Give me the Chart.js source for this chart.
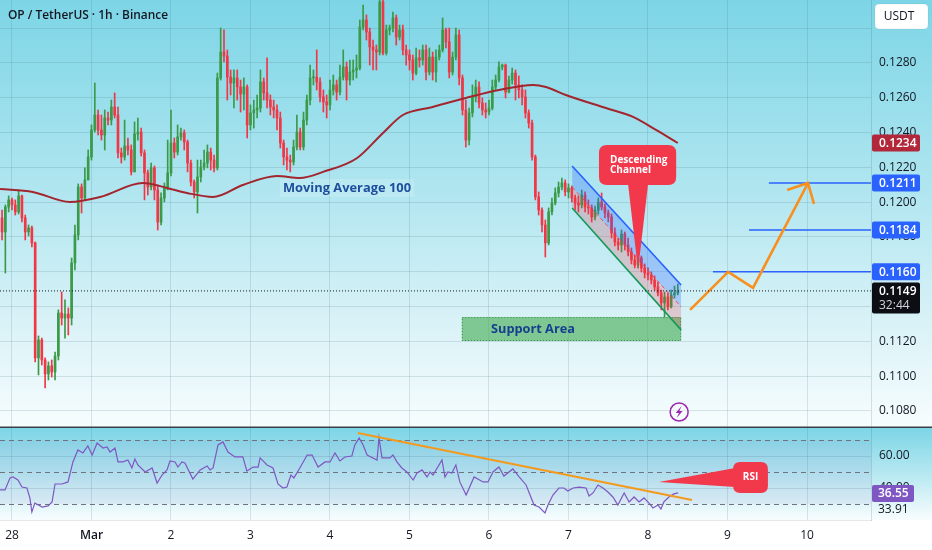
<!DOCTYPE html>
<html>
<head>
<meta charset="utf-8">
<script src="https://cdn.jsdelivr.net/npm/chart.js@4.4.1/dist/chart.umd.min.js"></script>
<style>
html,body{margin:0;padding:0;background:#fff;width:932px;height:550px;overflow:hidden}
#mainBox{position:absolute;left:0;top:0;width:932px;height:428px}
#rsiBox{position:absolute;left:0;top:428px;width:932px;height:122px}
</style>
</head>
<body>
<div id="mainBox"><canvas id="main"></canvas></div>
<div id="rsiBox"><canvas id="rsi"></canvas></div>
<script>
// ---------------- DATA ----------------
const tickHours = [0, 24, 48, 72, 96, 120, 144, 168, 192, 216, 240];
const dayLabels = ['28', 'Mar', '2', '3', '4', '5', '6', '7', '8', '9', '10'];
const priceTicks = [0.1080, 0.1100, 0.1120, 0.1140, 0.1160, 0.1180, 0.1200, 0.1220, 0.1240, 0.1260, 0.1280, 0.1300];
const rsiTicks = [40, 60];
const rsiLevels = [70, 50, 30];

const candleStartHour = -3;
const firstOpen = 0.11909;
const closes = [
0.11829,0.11972,0.12013,0.11984,0.11944,0.12036,0.11909,0.11829,0.11852,0.11766,
0.11105,0.11208,0.11093,0.11013,0.11059,0.11024,0.11116,0.11363,0.11334,0.11357,
0.11334,0.11651,0.11812,0.12087,0.12024,0.12128,0.12260,0.12415,0.12501,0.12415,
0.12386,0.12484,0.12472,0.12547,0.12501,0.12283,0.12260,0.12323,0.12300,0.12174,
0.12392,0.12403,0.12283,0.12168,0.12087,0.12197,0.12070,0.11886,0.12024,0.12087,
0.12168,0.12340,0.12288,0.12375,0.12398,0.12346,0.12225,0.12116,0.12059,0.12145,
0.12202,0.12225,0.12288,0.12242,0.12197,0.12714,0.12863,0.12840,0.12719,0.12685,
0.12714,0.12662,0.12622,0.12662,0.12444,0.12513,0.12530,0.12541,0.12691,0.12628,
0.12587,0.12547,0.12530,0.12484,0.12340,0.12260,0.12242,0.12231,0.12317,0.12403,
0.12317,0.12472,0.12587,0.12714,0.12719,0.12691,0.12605,0.12576,0.12559,0.12645,
0.12674,0.12633,0.12719,0.12777,0.12702,0.12748,0.12760,0.12771,0.13007,0.13047,
0.12978,0.12892,0.12875,0.12863,0.13151,0.12857,0.12990,0.13001,0.13059,0.12949,
0.12990,0.12875,0.12846,0.12817,0.12742,0.12829,0.12817,0.12875,0.12748,0.12834,
0.12748,0.12834,0.12875,0.12990,0.12921,0.12748,0.12834,0.12961,0.12714,0.12530,
0.12357,0.12513,0.12605,0.12662,0.12570,0.12530,0.12518,0.12541,0.12662,0.12702,
0.12777,0.12788,0.12633,0.12702,0.12742,0.12674,0.12645,0.12605,0.12513,0.12455,
0.12260,0.12030,0.11955,0.11869,0.11766,0.11944,0.11995,0.12053,0.12087,0.12110,
0.12059,0.12082,0.12024,0.11995,0.11984,0.12041,0.11972,0.11967,0.11915,0.11955,
0.12001,0.11972,0.11938,0.11915,0.11823,0.11771,0.11754,0.11817,0.11754,0.11714,
0.11668,0.11639,0.11679,0.11622,0.11593,0.11582,0.11553,0.11513,0.11478,0.11421,
0.11455,0.11398,0.11467,0.11478,0.11490];
const highs = [
0.11955,0.11984,0.12036,0.12024,0.12013,0.12070,0.12041,0.11926,0.11869,0.11863,
0.11771,0.11231,0.11219,0.11105,0.11082,0.11093,0.11139,0.11381,0.11484,0.11438,
0.11392,0.11679,0.11869,0.12105,0.12105,0.12197,0.12300,0.12444,0.12685,0.12530,
0.12501,0.12530,0.12518,0.12587,0.12628,0.12547,0.12311,0.12472,0.12369,0.12329,
0.12461,0.12484,0.12426,0.12300,0.12185,0.12225,0.12208,0.12099,0.12053,0.12110,
0.12357,0.12530,0.12369,0.12444,0.12426,0.12415,0.12357,0.12242,0.12128,0.12242,
0.12242,0.12300,0.12329,0.12311,0.12271,0.12742,0.13001,0.12990,0.12875,0.12760,
0.12760,0.12760,0.12702,0.12714,0.12674,0.12559,0.12587,0.12616,0.12760,0.12714,
0.12829,0.12616,0.12587,0.12559,0.12518,0.12357,0.12311,0.12271,0.12357,0.12501,
0.12426,0.12518,0.12616,0.12788,0.12760,0.12875,0.12714,0.12645,0.12616,0.12702,
0.12731,0.12702,0.12788,0.12875,0.12806,0.12817,0.12817,0.12846,0.13047,0.13133,
0.13076,0.13001,0.12932,0.12903,0.13200,0.13200,0.13018,0.13018,0.13093,0.13076,
0.13018,0.13018,0.12903,0.12875,0.12846,0.12886,0.12875,0.12903,0.12903,0.12886,
0.12863,0.12875,0.12903,0.13059,0.13001,0.13001,0.12863,0.13001,0.12990,0.12731,
0.12587,0.12541,0.12674,0.12702,0.12691,0.12599,0.12570,0.12587,0.12702,0.12731,
0.12806,0.12794,0.12794,0.12725,0.12771,0.12760,0.12725,0.12674,0.12645,0.12530,
0.12472,0.12271,0.12059,0.11967,0.11898,0.11967,0.12024,0.12082,0.12116,0.12139,
0.12128,0.12105,0.12093,0.12041,0.12036,0.12070,0.12059,0.12013,0.11984,0.11978,
0.12024,0.12053,0.11990,0.11955,0.11932,0.11852,0.11794,0.11840,0.11829,0.11794,
0.11737,0.11697,0.11702,0.11691,0.11645,0.11622,0.11599,0.11576,0.11541,0.11495,
0.11484,0.11478,0.11495,0.11518,0.11530];
const lows = [
0.11783,0.11593,0.11944,0.11955,0.11926,0.11932,0.11886,0.11783,0.11806,0.11743,
0.11082,0.11007,0.11064,0.10932,0.10978,0.10995,0.10978,0.11093,0.11294,0.11219,
0.11237,0.11294,0.11610,0.11783,0.11938,0.12013,0.12128,0.12242,0.12403,0.12386,
0.12357,0.12300,0.12444,0.12444,0.12484,0.12254,0.12225,0.12242,0.12271,0.12156,
0.12174,0.12357,0.12265,0.12013,0.12041,0.12070,0.12013,0.11840,0.11869,0.12001,
0.12070,0.12151,0.12254,0.12271,0.12357,0.12300,0.12174,0.12093,0.12024,0.11938,
0.12116,0.12185,0.12197,0.12185,0.12174,0.12185,0.12702,0.12806,0.12587,0.12616,
0.12541,0.12587,0.12518,0.12530,0.12369,0.12415,0.12426,0.12484,0.12518,0.12587,
0.12541,0.12501,0.12484,0.12415,0.12311,0.12214,0.12185,0.12174,0.12214,0.12300,
0.12300,0.12300,0.12444,0.12559,0.12674,0.12645,0.12576,0.12518,0.12484,0.12530,
0.12616,0.12587,0.12616,0.12702,0.12587,0.12674,0.12702,0.12714,0.12760,0.12990,
0.12932,0.12788,0.12760,0.12760,0.12846,0.12846,0.12846,0.12961,0.12978,0.12903,
0.12932,0.12846,0.12788,0.12760,0.12702,0.12731,0.12777,0.12788,0.12702,0.12731,
0.12702,0.12691,0.12817,0.12863,0.12886,0.12714,0.12731,0.12817,0.12674,0.12501,
0.12317,0.12329,0.12490,0.12576,0.12541,0.12501,0.12484,0.12501,0.12530,0.12645,
0.12691,0.12760,0.12599,0.12628,0.12679,0.12587,0.12599,0.12559,0.12484,0.12426,
0.12242,0.12013,0.11926,0.11829,0.11685,0.11754,0.11926,0.11984,0.12030,0.12070,
0.12036,0.12024,0.12001,0.11955,0.11944,0.11967,0.11944,0.11932,0.11886,0.11898,
0.11932,0.11955,0.11909,0.11886,0.11794,0.11748,0.11725,0.11714,0.11725,0.11691,
0.11645,0.11622,0.11622,0.11599,0.11564,0.11553,0.11530,0.11495,0.11461,0.11381,
0.11340,0.11381,0.11392,0.11449,0.11467];

const maHours = [-3.6, 6.3, 17.5, 26.6, 39.5, 46.8, 52.8, 60.7, 69.7, 80.0, 86.9, 93.9, 104.2, 112.0, 118.0, 127.0, 137.0, 147.0, 157.3, 161.2, 167.2, 179.3, 187.5, 194.4, 201.0];
const maValues = [0.12076, 0.12059, 0.12001, 0.12030, 0.12110, 0.12082, 0.12053, 0.12030, 0.12099, 0.12151, 0.12139, 0.12174, 0.12254, 0.12398, 0.12501, 0.12547, 0.12599, 0.12645, 0.12674, 0.12662, 0.12616, 0.12541, 0.12490, 0.12415, 0.12340];

const rsiHours = [-3.6,-2.1,-0.6,0.3,1.8,3.0,4.5,5.4,6.0,6.9,
9.1,10.9,12.1,13.0,15.1,16.9,18.4,19.9,21.4,22.9,
24.2,25.7,27.5,28.7,29.6,31.1,32.0,33.5,35.0,36.2,
37.1,38.0,40.2,42.3,43.8,45.3,46.8,47.7,49.2,50.1,
51.3,52.2,54.6,56.8,58.9,59.8,60.7,62.2,63.7,65.2,
67.3,69.7,70.9,72.8,74.3,74.9,77.0,78.8,80.3,81.8,
83.0,84.2,85.1,86.9,89.1,90.6,92.4,94.5,96.0,97.5,
99.0,100.5,102.6,103.5,104.8,106.0,107.2,110.2,110.8,111.7,
114.1,115.0,116.2,117.7,119.2,121.1,122.3,123.8,125.3,126.2,
127.1,129.8,130.7,131.6,132.8,134.0,135.2,137.1,139.5,142.2,
143.7,145.2,147.0,148.5,151.2,153.1,155.2,157.6,159.1,160.9,
161.8,163.3,165.1,166.6,167.8,169.4,171.2,173.3,174.2,175.4,
176.9,178.4,179.9,181.4,182.9,184.8,186.3,187.8,189.3,190.8,
192.3,193.5,195.0,195.9,196.8,198.3,199.8,201.1];
const rsiValues = [38.8,38.8,46.3,46.9,45.0,40.6,40.0,33.8,25.0,30.6,
28.1,28.8,31.3,42.5,42.5,43.8,56.3,63.8,61.9,66.3,
60.6,68.1,65.0,65.6,62.5,65.0,56.3,56.3,57.5,52.5,
58.1,54.4,50.0,52.5,43.1,48.1,51.3,56.9,56.3,53.1,
56.3,55.6,45.6,51.3,53.8,51.3,52.5,66.9,68.8,62.5,
59.4,59.4,50.6,53.1,53.1,58.8,54.4,52.5,42.5,40.0,
40.6,48.1,46.3,52.5,60.6,60.6,53.1,56.3,56.3,61.9,
56.9,59.4,60.0,66.9,71.3,66.9,60.6,57.5,71.3,58.8,
58.8,60.6,56.3,52.5,50.0,45.0,49.4,51.3,46.9,50.0,
48.1,57.5,46.9,50.0,49.4,54.4,43.8,35.6,46.9,43.8,
43.8,50.0,53.1,47.5,51.9,46.9,41.9,29.4,28.1,24.4,
29.4,35.6,40.0,40.0,38.1,40.0,40.6,40.0,35.0,36.9,
41.9,40.0,37.5,34.4,29.4,36.9,31.3,34.4,31.3,33.8,
30.6,27.5,29.4,26.9,31.3,34.4,36.3,36.9];
const rsiTrendHours = [104.4, 205.3];
const rsiTrendValues = [74.4, 32.5];

// drawings
const channelHours = [169.1, 202.0];
const channelUpper = [0.12208, 0.11524];
const channelMid = [0.12087, 0.11398];
const channelLower = [0.11967, 0.11266];
const supportHours = [135.8, 202.0];
const supportPrices = [0.11202, 0.11340];
const projHours = [204.7, 216.2, 223.7, 240.3];
const projPrices = [0.11381, 0.11599, 0.11507, 0.12110];
const arrowHours = [234.0, 240.3, 242.1];
const arrowPrices = [0.12070, 0.12110, 0.11990];
const targetPrices = [0.1211, 0.1184, 0.1160];
const targetStartHours = [228.5, 222.5, 211.6];
const lastPrice = 0.1149;
const countdown = '32:44';
const maLast = 0.1234;
const rsiLast = 36.55;
const rsiMaLast = 33.91;
const channelNoteHours = [177.2, 200.5];
const channelNotePrices = [0.12329, 0.12099];
const channelNoteTip = [189.0, 0.11610];
const rsiNoteHours = [217.7, 228.2];
const rsiNoteValues = [56.25, 36.9];
const rsiNoteBase = [52.5, 40.6];
const rsiNoteTip = [195.3, 43.75];
const maLabelAt = [81.8, 0.12082];
const supportLabelAt = [144.6, 0.11271];
const boltAt = [201.4, 0.10794];

// ---------------- HELPERS ----------------
const FONT = "'Open Sans', 'Noto Sans', sans-serif";
const UP = '#3a9a47', DOWN = '#f23645';
const X_MIN = -3.62, X_MAX = 259.32;
const GRID = 'rgba(60,100,112,0.16)';
const hours = closes.map((_, i) => candleStartHour + i);
const opens = closes.map((c, i) => (i === 0 ? firstOpen : closes[i - 1]));
const candleColors = closes.map((c, i) => (c >= opens[i] ? UP : DOWN));
const pts = (xs, ys) => xs.map((x, i) => ({ x: x, y: ys[i] }));

function rr(ctx, x, y, w, h, r) {
  ctx.beginPath();
  ctx.moveTo(x + r, y);
  ctx.lineTo(x + w - r, y);
  ctx.quadraticCurveTo(x + w, y, x + w, y + r);
  ctx.lineTo(x + w, y + h - r);
  ctx.quadraticCurveTo(x + w, y + h, x + w - r, y + h);
  ctx.lineTo(x + r, y + h);
  ctx.quadraticCurveTo(x, y + h, x, y + h - r);
  ctx.lineTo(x, y + r);
  ctx.quadraticCurveTo(x, y, x + r, y);
  ctx.closePath();
}
function fitFont(ctx, text, weight, targetW, maxSize) {
  ctx.font = weight + ' ' + maxSize + 'px ' + FONT;
  const w = ctx.measureText(text).width;
  const s = Math.min(maxSize, maxSize * targetW / w);
  ctx.font = weight + ' ' + s.toFixed(2) + 'px ' + FONT;
}
function badge(ctx, left, yc, text, bg, fg) {
  ctx.fillStyle = bg;
  rr(ctx, left, yc - 8.5, 48, 17, 2);
  ctx.fill();
  ctx.fillStyle = fg;
  ctx.font = '600 12px ' + FONT;
  ctx.textAlign = 'left';
  ctx.textBaseline = 'middle';
  ctx.fillText(text, left + 7, yc + 0.5);
}
const noPad = s => { s.paddingTop = 0; s.paddingBottom = 0; s.paddingLeft = 0; s.paddingRight = 0; };

// ---------------- MAIN CHART ----------------
const mainDecor = {
  id: 'mainDecor',
  beforeDraw(chart) {
    const { ctx, width, height } = chart;
    const g = ctx.createLinearGradient(0, 0, 0, height);
    g.addColorStop(0, '#7cd5e6');
    g.addColorStop(0.45, '#b1e6f0');
    g.addColorStop(0.8, '#dff4f8');
    g.addColorStop(1, '#f7fdfe');
    ctx.save();
    ctx.fillStyle = g;
    ctx.fillRect(0, 0, width, height);
    ctx.restore();
  },
  beforeDatasetsDraw(chart) {
    const { ctx } = chart;
    const xs = chart.scales.x, ys = chart.scales.y;
    const x0 = xs.getPixelForValue(supportHours[0]), x1 = xs.getPixelForValue(supportHours[1]);
    const y0 = ys.getPixelForValue(supportPrices[1]), y1 = ys.getPixelForValue(supportPrices[0]);
    ctx.save();
    ctx.fillStyle = 'rgba(70,172,86,0.62)';
    ctx.fillRect(x0, y0, x1 - x0, y1 - y0);
    ctx.setLineDash([1, 2]);
    ctx.strokeStyle = '#3b8a46';
    ctx.lineWidth = 1;
    ctx.strokeRect(x0 + 0.5, y0 + 0.5, x1 - x0 - 1, y1 - y0 - 1);
    ctx.restore();
  },
  afterDraw(chart) {
    const { ctx, width, height, chartArea } = chart;
    const xs = chart.scales.x, ys = chart.scales.y;
    ctx.save();
    // title
    ctx.fillStyle = '#131722';
    ctx.textAlign = 'left';
    ctx.textBaseline = 'middle';
    fitFont(ctx, 'OP / TetherUS · 1h · Binance', '600', 160, 13);
    ctx.fillText('OP / TetherUS · 1h · Binance', 8, 16);

    // MA label
    const mx = xs.getPixelForValue(maLabelAt[0]), my = ys.getPixelForValue(maLabelAt[1]);
    fitFont(ctx, 'Moving Average 100', 'bold', 128, 14);
    const mw = ctx.measureText('Moving Average 100').width;
    ctx.fillStyle = 'rgba(255,255,255,0.16)';
    ctx.fillRect(mx - 3, my - 9, mw + 6, 18);
    ctx.fillStyle = '#1d4f9e';
    ctx.fillText('Moving Average 100', mx, my + 0.5);

    // support label
    const sx = xs.getPixelForValue(supportLabelAt[0]), sy = ys.getPixelForValue(supportLabelAt[1]);
    fitFont(ctx, 'Support Area', 'bold', 84, 14);
    ctx.fillStyle = '#163f8e';
    ctx.fillText('Support Area', sx, sy);

    // descending channel callout
    const bx0 = xs.getPixelForValue(channelNoteHours[0]), bx1 = xs.getPixelForValue(channelNoteHours[1]);
    const by0 = ys.getPixelForValue(channelNotePrices[0]), by1 = ys.getPixelForValue(channelNotePrices[1]);
    const tx = xs.getPixelForValue(channelNoteTip[0]), ty = ys.getPixelForValue(channelNoteTip[1]);
    ctx.fillStyle = '#f2384b';
    rr(ctx, bx0, by0, bx1 - bx0, by1 - by0, 8);
    ctx.fill();
    ctx.beginPath();
    ctx.moveTo(tx - 10, by1 - 1);
    ctx.lineTo(tx + 10, by1 - 1);
    ctx.lineTo(tx, ty);
    ctx.closePath();
    ctx.fill();
    ctx.fillStyle = '#ffffff';
    ctx.font = 'bold 10px ' + FONT;
    ctx.fillText('Descending', bx0 + 11, by0 + 15);
    ctx.fillText('Channel', bx0 + 11, by0 + 25);

    // lightning icon
    const lx = xs.getPixelForValue(boltAt[0]), ly = ys.getPixelForValue(boltAt[1]);
    ctx.beginPath();
    ctx.arc(lx, ly, 9, 0, Math.PI * 2);
    ctx.fillStyle = 'rgba(255,255,255,0.35)';
    ctx.fill();
    ctx.strokeStyle = '#9c27b0';
    ctx.lineWidth = 1.5;
    ctx.stroke();
    ctx.beginPath();
    ctx.moveTo(lx + 2.5, ly - 6);
    ctx.lineTo(lx - 3.5, ly + 1);
    ctx.lineTo(lx - 0.2, ly + 1);
    ctx.lineTo(lx - 2.5, ly + 6);
    ctx.lineTo(lx + 3.5, ly - 1);
    ctx.lineTo(lx + 0.2, ly - 1);
    ctx.closePath();
    ctx.fillStyle = '#9c27b0';
    ctx.fill();

    // axis badges
    const left = chartArea.right + 1;
    badge(ctx, left, ys.getPixelForValue(maLast), maLast.toFixed(4), '#b2283a', '#ffffff');
    targetPrices.forEach(p => badge(ctx, left, ys.getPixelForValue(p), p.toFixed(4), '#2962ff', '#ffffff'));
    const lp = ys.getPixelForValue(lastPrice);
    ctx.fillStyle = '#0c0e14';
    rr(ctx, left, lp - 8.5, 48, 31, 2);
    ctx.fill();
    ctx.fillStyle = '#ffffff';
    ctx.font = '600 12px ' + FONT;
    ctx.fillText(lastPrice.toFixed(4), left + 7, lp + 0.5);
    ctx.fillStyle = '#d1d4dc';
    ctx.font = '12px ' + FONT;
    ctx.fillText(countdown, left + 7, lp + 14.5);

    // USDT box
    ctx.fillStyle = '#ffffff';
    rr(ctx, 875, 4, 53, 25, 4);
    ctx.fill();
    ctx.strokeStyle = 'rgba(0,0,0,0.06)';
    ctx.lineWidth = 1;
    ctx.stroke();
    ctx.fillStyle = '#131722';
    ctx.font = '12px ' + FONT;
    ctx.textAlign = 'center';
    ctx.fillText('USDT', 899, 17);

    // panel separator
    ctx.strokeStyle = '#3a3e46';
    ctx.lineWidth = 1.5;
    ctx.beginPath();
    ctx.moveTo(0, height - 0.75);
    ctx.lineTo(width, height - 0.75);
    ctx.stroke();
    ctx.restore();
  }
};

const wickData = hours.map((h, i) => ({ x: h, y: [lows[i], highs[i]] }));
const bodyData = hours.map((h, i) => ({ x: h, y: [opens[i], closes[i]] }));

new Chart(document.getElementById('main'), {
  type: 'bar',
  data: {
    datasets: [
      { label: 'wick', data: wickData, backgroundColor: candleColors, barThickness: 1, grouped: false, borderWidth: 0, order: 20 },
      { label: 'body', data: bodyData, backgroundColor: candleColors, barThickness: 2, minBarLength: 1, grouped: false, borderWidth: 0, order: 19 },
      { type: 'line', label: 'chanUp', data: pts(channelHours, channelUpper), borderColor: '#2962ff', borderWidth: 1.6, pointRadius: 0,
        fill: { target: '+1', above: 'rgba(41,98,255,0.28)', below: 'rgba(41,98,255,0.28)' }, order: 8 },
      { type: 'line', label: 'chanMid', data: pts(channelHours, channelMid), borderColor: 'rgba(242,54,69,0.8)', borderWidth: 1, borderDash: [4, 3], pointRadius: 0,
        fill: { target: '+1', above: 'rgba(242,54,69,0.22)', below: 'rgba(242,54,69,0.22)' }, order: 7 },
      { type: 'line', label: 'chanLow', data: pts(channelHours, channelLower), borderColor: '#16985a', borderWidth: 1.6, pointRadius: 0, fill: false, order: 6 },
      { type: 'line', label: 'MA100', data: pts(maHours, maValues), borderColor: '#a3262f', borderWidth: 2, pointRadius: 0, cubicInterpolationMode: 'monotone', fill: false, order: 5 },
      { type: 'line', label: 't1', data: pts([targetStartHours[0], X_MAX], [targetPrices[0], targetPrices[0]]), borderColor: '#2962ff', borderWidth: 1.6, pointRadius: 0, fill: false, order: 4 },
      { type: 'line', label: 't2', data: pts([targetStartHours[1], X_MAX], [targetPrices[1], targetPrices[1]]), borderColor: '#2962ff', borderWidth: 1.6, pointRadius: 0, fill: false, order: 4 },
      { type: 'line', label: 't3', data: pts([targetStartHours[2], X_MAX], [targetPrices[2], targetPrices[2]]), borderColor: '#2962ff', borderWidth: 1.6, pointRadius: 0, fill: false, order: 4 },
      { type: 'line', label: 'proj', data: pts(projHours, projPrices), borderColor: '#f7901e', borderWidth: 2.6, pointRadius: 0, fill: false, tension: 0, order: 3 },
      { type: 'line', label: 'arrow', data: pts(arrowHours, arrowPrices), borderColor: '#f7901e', borderWidth: 2.6, pointRadius: 0, fill: false, tension: 0, order: 3 },
      { type: 'line', label: 'last', data: pts([X_MIN, X_MAX], [lastPrice, lastPrice]), borderColor: '#131722', borderWidth: 1, borderDash: [1, 2], pointRadius: 0, fill: false, order: 1 }
    ]
  },
  options: {
    responsive: true,
    maintainAspectRatio: false,
    animation: false,
    events: [],
    layout: { padding: 0, autoPadding: false },
    plugins: { legend: { display: false }, tooltip: { enabled: false } },
    scales: {
      x: {
        type: 'linear', min: X_MIN, max: X_MAX, offset: false,
        afterBuildTicks: s => { s.ticks = tickHours.map(v => ({ value: v })); },
        ticks: { display: false },
        grid: { color: GRID, drawTicks: false, offset: false },
        border: { display: false },
        afterFit: s => { s.height = 0; noPad(s); }
      },
      y: {
        position: 'right', min: 0.10702, max: 0.13162,
        afterBuildTicks: s => { s.ticks = priceTicks.map(v => ({ value: v })); },
        ticks: { padding: 8, color: '#131722', font: { family: FONT, size: 12 }, callback: v => (v > 0.1295 ? '' : v.toFixed(4)) },
        grid: { color: GRID, drawTicks: false },
        border: { display: true, color: 'rgba(40,60,70,0.15)' },
        afterFit: s => { s.width = 61; noPad(s); }
      }
    }
  },
  plugins: [mainDecor]
});

// ---------------- RSI CHART ----------------
const rsiDecor = {
  id: 'rsiDecor',
  beforeDraw(chart) {
    const { ctx, width, height, chartArea } = chart;
    ctx.save();
    ctx.fillStyle = '#ffffff';
    ctx.fillRect(0, 0, width, height);
    const g = ctx.createLinearGradient(0, 0, 0, chartArea.bottom);
    g.addColorStop(0, '#7cd5e6');
    g.addColorStop(0.5, '#b7e8f1');
    g.addColorStop(1, '#f8fdfe');
    ctx.fillStyle = g;
    ctx.fillRect(0, 0, width, chartArea.bottom);
    ctx.restore();
  },
  beforeDatasetsDraw(chart) {
    const { ctx, chartArea } = chart;
    const ys = chart.scales.y;
    ctx.save();
    const yTop = ys.getPixelForValue(rsiLevels[0]), yBot = ys.getPixelForValue(rsiLevels[2]);
    ctx.fillStyle = 'rgba(110,80,190,0.07)';
    ctx.fillRect(chartArea.left, yTop, chartArea.right - chartArea.left, yBot - yTop);
    ctx.strokeStyle = '#6f737e';
    ctx.lineWidth = 1;
    ctx.setLineDash([5, 4]);
    rsiLevels.forEach(v => {
      const y = Math.round(ys.getPixelForValue(v)) + 0.5;
      ctx.beginPath();
      ctx.moveTo(chartArea.left, y);
      ctx.lineTo(chartArea.right, y);
      ctx.stroke();
    });
    ctx.restore();
  },
  afterDraw(chart) {
    const { ctx, chartArea } = chart;
    const xs = chart.scales.x, ys = chart.scales.y;
    ctx.save();
    // RSI callout
    const bx0 = xs.getPixelForValue(rsiNoteHours[0]), bx1 = xs.getPixelForValue(rsiNoteHours[1]);
    const by0 = ys.getPixelForValue(rsiNoteValues[0]), by1 = ys.getPixelForValue(rsiNoteValues[1]);
    const tx = xs.getPixelForValue(rsiNoteTip[0]), ty = ys.getPixelForValue(rsiNoteTip[1]);
    ctx.fillStyle = '#f2384b';
    rr(ctx, bx0, by0, bx1 - bx0, by1 - by0, 7);
    ctx.fill();
    ctx.beginPath();
    ctx.moveTo(bx0 + 2, ys.getPixelForValue(rsiNoteBase[0]));
    ctx.lineTo(bx0 + 2, ys.getPixelForValue(rsiNoteBase[1]));
    ctx.lineTo(tx, ty);
    ctx.closePath();
    ctx.fill();
    ctx.fillStyle = '#ffffff';
    ctx.font = 'bold 10px ' + FONT;
    ctx.textAlign = 'center';
    ctx.textBaseline = 'middle';
    ctx.fillText('RSI', (bx0 + bx1) / 2, (by0 + by1) / 2);

    // badges
    const left = chartArea.right + 1;
    const yr = ys.getPixelForValue(rsiLast);
    ctx.textAlign = 'left';
    ctx.fillStyle = '#7e57c2';
    rr(ctx, left, yr - 8.5, 42, 17, 2);
    ctx.fill();
    ctx.fillStyle = '#ffffff';
    ctx.font = '600 12px ' + FONT;
    ctx.fillText(rsiLast.toFixed(2), left + 6, yr + 0.5);
    const ym = Math.max(ys.getPixelForValue(rsiMaLast), yr + 16.5);
    ctx.fillStyle = '#131722';
    ctx.font = '12px ' + FONT;
    ctx.fillText(rsiMaLast.toFixed(2), left + 6, ym);
    ctx.restore();
  }
};

new Chart(document.getElementById('rsi'), {
  type: 'line',
  data: {
    datasets: [
      { label: 'trend', data: pts(rsiTrendHours, rsiTrendValues), borderColor: '#f39a1e', borderWidth: 2, pointRadius: 0, fill: false, order: 1 },
      { label: 'RSI', data: pts(rsiHours, rsiValues), borderColor: '#7e57c2', borderWidth: 1.2, pointRadius: 0, fill: false, tension: 0, order: 2 }
    ]
  },
  options: {
    responsive: true,
    maintainAspectRatio: false,
    animation: false,
    events: [],
    layout: { padding: 0, autoPadding: false },
    plugins: { legend: { display: false }, tooltip: { enabled: false } },
    scales: {
      x: {
        type: 'linear', min: X_MIN, max: X_MAX, offset: false,
        afterBuildTicks: s => { s.ticks = tickHours.map(v => ({ value: v })); },
        ticks: {
          padding: 8, color: '#131722', maxRotation: 0, autoSkip: false,
          font: ctx => ({ family: FONT, size: 12, weight: (ctx.tick && ctx.tick.value === 24) ? '600' : '400' }),
          callback: v => { const i = tickHours.indexOf(v); return i >= 0 ? dayLabels[i] : ''; }
        },
        grid: { color: GRID, drawTicks: false },
        border: { display: true, color: 'rgba(40,60,70,0.12)' },
        afterFit: s => { s.height = 30; noPad(s); }
      },
      y: {
        position: 'right', min: 20, max: 77.5,
        afterBuildTicks: s => { s.ticks = rsiTicks.map(v => ({ value: v })); },
        ticks: { padding: 8, color: '#131722', font: { family: FONT, size: 12 }, callback: v => v.toFixed(2) },
        grid: { color: GRID, drawTicks: false },
        border: { display: true, color: 'rgba(40,60,70,0.15)' },
        afterFit: s => { s.width = 61; noPad(s); }
      }
    }
  },
  plugins: [rsiDecor]
});
</script>
</body>
</html>
